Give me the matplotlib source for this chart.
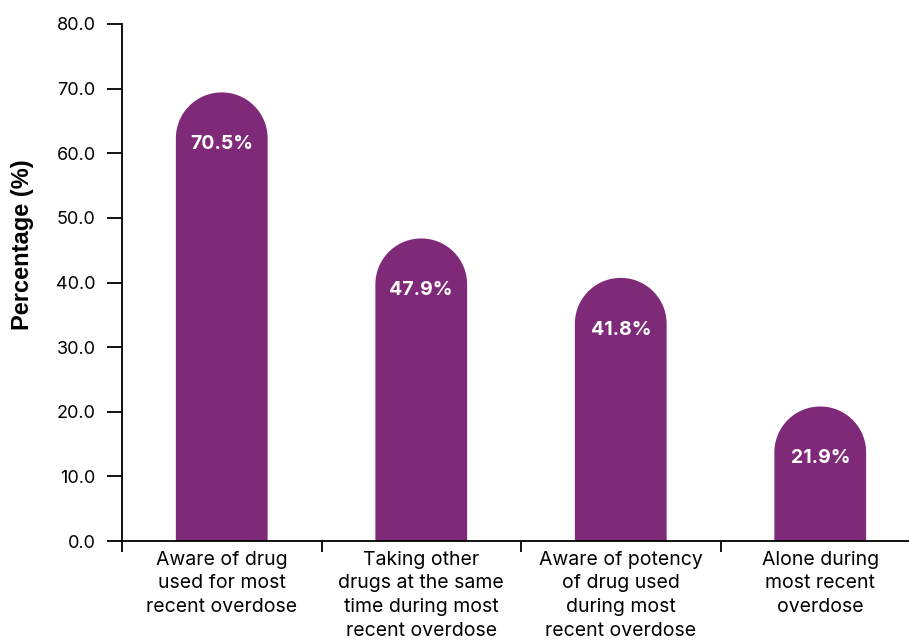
import matplotlib

matplotlib.use("Agg")
import matplotlib.pyplot as plt
import numpy as np
from matplotlib.patches import PathPatch
from matplotlib.path import Path
from matplotlib.transforms import blended_transform_factory

categories = [
    "Aware of drug\nused for most\nrecent overdose",
    "Taking other\ndrugs at the same\ntime during most\nrecent overdose",
    "Aware of potency\nof drug used\nduring most\nrecent overdose",
    "Alone during\nmost recent\noverdose",
]
values = [70.5, 47.9, 41.8, 21.9]
y_ticks = [0, 10, 20, 30, 40, 50, 60, 70, 80]

BAR_COLOR = "#7f2a79"
BAR_WIDTH = 0.46


def main():
    plt.rcParams["font.family"] = ["Inter", "DejaVu Sans"]

    fig = plt.figure(figsize=(9.09, 6.41), dpi=100)
    ax = fig.add_axes([122 / 909, 1 - 541 / 641, 798 / 909, 517 / 641])

    ax.set_xlim(-0.5, len(categories) - 0.5)
    ax.set_ylim(0, 80)

    # pixel -> data scale, so the caps come out as real half circles
    px_x = ax.transData.transform((1, 0))[0] - ax.transData.transform((0, 0))[0]
    px_y = ax.transData.transform((0, 1))[1] - ax.transData.transform((0, 0))[1]
    rx = BAR_WIDTH / 2
    ry = rx * px_x / px_y
    inset = 7 / px_y

    for i, value in enumerate(values):
        top = value - inset
        x0, x1 = i - rx, i + rx
        theta = np.linspace(0, np.pi, 60)
        arc = np.column_stack([i + rx * np.cos(theta), top - ry + ry * np.sin(theta)])
        verts = [(x1, 0), (x1, top - ry)] + arc.tolist() + [(x0, top - ry), (x0, 0), (x1, 0)]
        codes = [Path.MOVETO] + [Path.LINETO] * (len(verts) - 2) + [Path.CLOSEPOLY]
        ax.add_patch(PathPatch(Path(verts, codes), facecolor=BAR_COLOR, edgecolor="none"))
        ax.text(
            i,
            top - 52 / px_y,
            f"{value:.1f}%",
            ha="center",
            va="center",
            color="white",
            fontsize=14,
            fontweight="bold",
        )

    ax.set_yticks(y_ticks)
    ax.set_yticklabels([f"{t:.1f}" for t in y_ticks])
    ax.tick_params(axis="y", length=11, width=1.3, pad=8, labelsize=13, colors="black")

    ax.set_xticks(range(len(categories)))
    ax.set_xticklabels(categories, fontsize=14, linespacing=1.4)
    ax.tick_params(axis="x", which="major", length=0, pad=7)
    ax.set_xticks(np.arange(-0.5, len(categories), 1.0), minor=True)
    ax.tick_params(axis="x", which="minor", length=8, width=1.3, direction="out")

    for side in ["top", "right"]:
        ax.spines[side].set_visible(False)
    for side in ["left", "bottom"]:
        ax.spines[side].set_linewidth(1.3)

    ax.set_ylabel(
        "Percentage (%)",
        fontsize=17,
        fontweight="bold",
        family=["Liberation Sans", "DejaVu Sans"],
    )
    ax.yaxis.set_label_coords(
        34 / 909,
        (541 - 245) / 517,
        transform=blended_transform_factory(fig.transFigure, ax.transAxes),
    )

    fig.savefig("out.png", dpi=100)
    plt.close(fig)


if __name__ == "__main__":
    main()
